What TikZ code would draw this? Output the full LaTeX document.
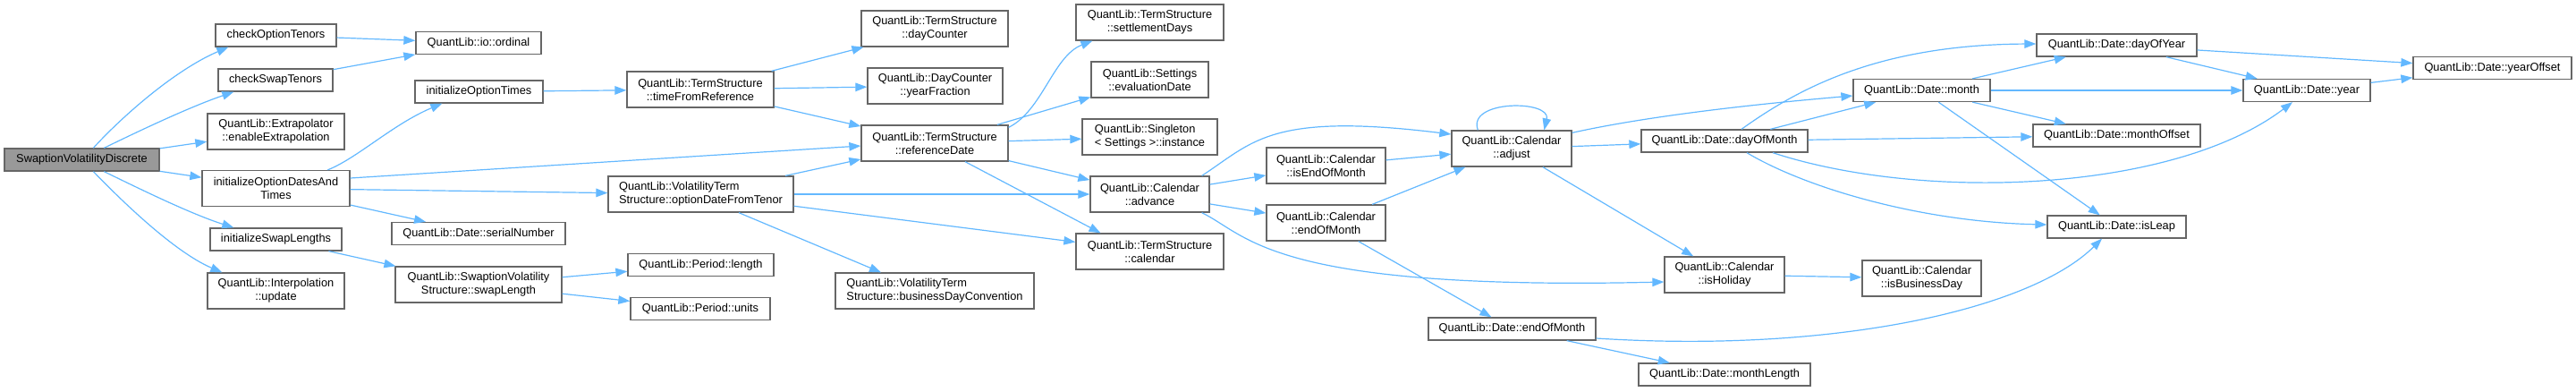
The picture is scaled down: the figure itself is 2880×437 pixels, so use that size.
\documentclass[tikz,border=0pt]{standalone}
\usepackage{fontspec}
\setmainfont{Liberation Sans}
\usetikzlibrary{arrows.meta,calc}
\definecolor{edgeblue}{HTML}{63B8FF}
\definecolor{boxgray}{HTML}{666666}
\definecolor{rootgray}{HTML}{999999}

\begin{document}
\begin{tikzpicture}[
    x=1pt, y=-1pt,
    fn/.style={draw=boxgray, fill=white, line width=1.3pt, inner sep=0pt, minimum width=#1, minimum height=25pt, align=center, font=\fontsize{12.8pt}{15pt}\selectfont},
    two/.style={minimum height=40pt},
    root/.style={fill=rootgray},
    call/.style={-{Triangle[length=13pt,width=9.5pt]}, draw=edgeblue, line width=1.2pt}
]
\useasboundingbox (0,0) rectangle (2880,437);

% Functions
\node[fn=173, root] (svd) at (91.5,178.5) {SwaptionVolatilityDiscrete};
\node[fn=135] (chkopt) at (308.5,39.5) {checkOptionTenors};
\node[fn=128] (chkswap) at (308,89.5) {checkSwapTenors};
\node[fn=153, two] (extrap) at (308.5,147) {QuantLib::Extrapolator\\::enableExtrapolation};
\node[fn=165, two] (initdates) at (308.5,210.5) {initializeOptionDatesAnd\\Times};
\node[fn=147] (initswap) at (308.5,267.5) {initializeSwapLengths};
\node[fn=153, two] (interp) at (308.5,325) {QuantLib::Interpolation\\::update};
\node[fn=140] (ordinal) at (535,48) {QuantLib::io::ordinal};
\node[fn=143] (inittimes) at (535.5,102.5) {initializeOptionTimes};
\node[fn=194] (serial) at (535,261) {QuantLib::Date::serialNumber};
\node[fn=186, two] (swaplen) at (535,318) {QuantLib::SwaptionVolatility\\Structure::swapLength};
\node[fn=164, two] (timeref) at (783,100) {QuantLib::TermStructure\\::timeFromReference};
\node[fn=207, two, align=left] (optdate) at (783.5,217) {QuantLib::VolatilityTerm\\Structure::optionDateFromTenor};
\node[fn=163] (plength) at (783.5,296) {QuantLib::Period::length};
\node[fn=156] (punits) at (783,345) {QuantLib::Period::units};
\node[fn=164, two] (daycount) at (1045,32) {QuantLib::TermStructure\\::dayCounter};
\node[fn=151, two] (yearfrac) at (1045.5,96) {QuantLib::DayCounter\\::yearFraction};
\node[fn=164, two] (refdate) at (1045,160) {QuantLib::TermStructure\\::referenceDate};
\node[fn=222, two, align=left] (bdconv) at (1045,325) {QuantLib::VolatilityTerm\\Structure::businessDayConvention};
\node[fn=165, two] (settle) at (1285.5,25) {QuantLib::TermStructure\\::settlementDays};
\node[fn=131, two] (evaldate) at (1285.5,89) {QuantLib::Settings\\::evaluationDate};
\node[fn=151, two, align=left] (instance) at (1285.5,153) {QuantLib::Singleton\\< Settings >::instance};
\node[fn=133, two] (advance) at (1285.5,217) {QuantLib::Calendar\\::advance};
\node[fn=165, two] (tscal) at (1285.5,281) {QuantLib::TermStructure\\::calendar};
\node[fn=133, two] (iseom) at (1482.5,185) {QuantLib::Calendar\\::isEndOfMonth};
\node[fn=133, two] (caleom) at (1482.5,249) {QuantLib::Calendar\\::endOfMonth};
\node[fn=134, two] (adjust) at (1690,166) {QuantLib::Calendar\\::adjust};
\node[fn=187] (dateeom) at (1690.5,367.5) {QuantLib::Date::endOfMonth};
\node[fn=186] (dom) at (1928,157.5) {QuantLib::Date::dayOfMonth};
\node[fn=134, two] (holiday) at (1928,307) {QuantLib::Calendar\\::isHoliday};
\node[fn=192] (monthlen) at (1928,418.5) {QuantLib::Date::monthLength};
\node[fn=153] (month) at (2148.5,101) {QuantLib::Date::month};
\node[fn=133, two] (busday) at (2148.5,311) {QuantLib::Calendar\\::isBusinessDay};
\node[fn=179] (doy) at (2366.5,50.5) {QuantLib::Date::dayOfYear};
\node[fn=187] (moffset) at (2366.5,151.5) {QuantLib::Date::monthOffset};
\node[fn=155] (isleap) at (2366.5,253.5) {QuantLib::Date::isLeap};
\node[fn=142] (year) at (2579,101) {QuantLib::Date::year};
\node[fn=177] (yoffset) at (2786.5,76) {QuantLib::Date::yearOffset};

% Calls
\draw[call] ($(svd.north west)+(100,0)$) .. controls +(30,-33) and +(-61,26) .. ($(chkopt.south west)+(15,0)$);
\draw[call] ($(svd.north west)+(112,0)$) .. controls +(43,-21) and +(-47,16) .. ($(chkswap.south west)+(18,0)$);
\draw[call] (svd) -- (extrap);
\draw[call] (svd) -- (initdates);
\draw[call] ($(svd.south west)+(112,0)$) .. controls +(43,21) and +(-47,-15) .. ($(initswap.north west)+(27,0)$);
\draw[call] ($(svd.south west)+(100,0)$) .. controls +(30,31) and +(-54,-23) .. ($(interp.north west)+(17,0)$);
\draw[call] (chkopt) -- (ordinal);
\draw[call] (chkswap) -- (ordinal);
\draw[call] ($(initdates.north west)+(141,0)$) .. controls +(33,-13) and +(-55,23) .. ($(inittimes.south west)+(31,0)$);
\draw[call] ($(initdates.east)+(0,-11.5)$) -- ($(refdate.west)+(0,3)$);
\draw[call] (initdates) -- (optdate);
\draw[call] (initdates) -- (serial);
\draw[call] (initswap) -- (swaplen);
\draw[call] (inittimes) -- (timeref);
\draw[call] (timeref) -- (daycount);
\draw[call] (timeref) -- (yearfrac);
\draw[call] (timeref) -- (refdate);
\draw[call] (optdate) -- (refdate);
\draw[call] (optdate) -- (advance);
\draw[call] (optdate) -- (tscal);
\draw[call] ($(optdate.south)+(42.5,0)$) -- ($(bdconv.north)+(-60,0)$);
\draw[call] ($(refdate.north east)+(0,3)$) .. controls +(38,-19) and +(-44,17) .. ($(settle.south west)+(19,0)$);
\draw[call] (refdate) -- (evaldate);
\draw[call] (refdate) -- (instance);
\draw[call] (refdate) -- (advance);
\draw[call] ($(refdate.south)+(34,0)$) -- ($(tscal.north)+(-55,0)$);
\draw[call] (swaplen) -- (plength);
\draw[call] (swaplen) -- (punits);
\draw[call] ($(advance.north east)+(-9,0)$) .. controls +(57,-37) and +(-203,-25) .. ($(adjust.west)+(0,-16)$);
\draw[call] (advance) -- (iseom);
\draw[call] (advance) -- (caleom);
\draw[call] ($(advance.south east)+(-9,0)$) .. controls +(52,25) and +(-441,10) .. ($(holiday.west)+(0,8)$);
\draw[call] (iseom) -- (adjust);
\draw[call] (caleom) -- (adjust);
\draw[call] (caleom) -- (dateeom);
\draw[call] ($(adjust.north west)+(30,0)$) .. controls +(-13,-34) and +(8,-34) .. ($(adjust.north west)+(104,0)$);
\draw[call] ($(adjust.north east)+(0,3)$) .. controls +(63,-14) and +(-152,13) .. ($(month.west)+(0,6)$);
\draw[call] (adjust) -- (dom);
\draw[call] (adjust) -- (holiday);
\draw[call] ($(dateeom.east)+(0,10.5)$) .. controls +(266,17) and +(-80,79) .. ($(isleap.south)+(-16.5,0)$);
\draw[call] (dateeom) -- (monthlen);
\draw[call] (holiday) -- (busday);
\draw[call] ($(dom.north)+(19,0)$) .. controls +(63,-45) and +(-177,1) .. ($(doy.west)+(0,-1.5)$);
\draw[call] (dom) -- (month);
\draw[call] (dom) -- (moffset);
\draw[call] ($(dom.south)+(54,0)$) .. controls +(168,55) and +(-133,101) .. ($(year.south)+(-16,0)$);
\draw[call] ($(dom.south)+(25,0)$) .. controls +(67,40) and +(-139,-3) .. ($(isleap.west)+(0,-2.5)$);
\draw[call] (month) -- (doy);
\draw[call] (month) -- (year);
\draw[call] (month) -- (moffset);
\draw[call] (month) -- (isleap);
\draw[call] (doy) -- (year);
\draw[call] (doy) -- (yoffset);
\draw[call] (year) -- (yoffset);

\end{tikzpicture}
\end{document}
